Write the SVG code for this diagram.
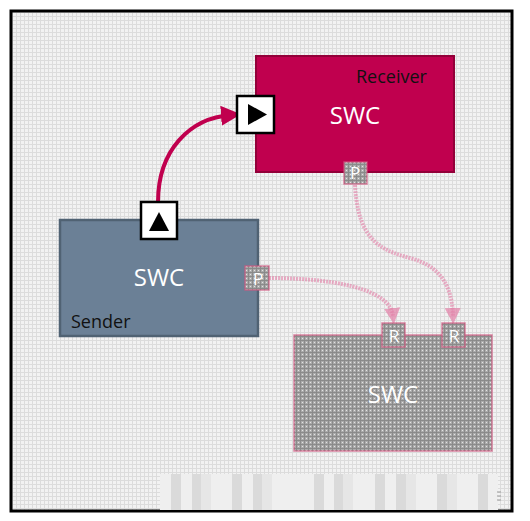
<svg xmlns="http://www.w3.org/2000/svg" width="530" height="521" viewBox="0 0 530 521">
<style>
.lbl{font-family:"Open Sans","DejaVu Sans",sans-serif}
.swc{font-size:24px;fill:#ffffff;text-anchor:middle}
.name{font-size:18px;fill:#111111}
.port{font-size:17px;fill:#ffffff;text-anchor:middle;font-family:"Open Sans","DejaVu Sans",sans-serif}
.pbox{fill:url(#hatch);stroke:#d0577f;stroke-width:1.5;stroke-opacity:0.7}
.dep{fill:none;stroke:#e27fa6;stroke-width:4;stroke-opacity:0.6;stroke-dasharray:2 1}
</style>
<defs>
<pattern id="grid" width="4" height="4" patternUnits="userSpaceOnUse">
<rect width="4" height="4" fill="#f2f2f2"/>
<path d="M0 0.5H4M0.5 0V4" stroke="#dcdcdc" stroke-width="1"/>
</pattern>
<pattern id="hatch" width="4" height="4" patternUnits="userSpaceOnUse">
<rect width="4" height="4" fill="#ababab"/>
<path d="M0 0.5H4M0.5 0V4" stroke="#8a8a8a" stroke-width="1"/>
<rect x="2" y="2" width="1" height="1" fill="#e2e2e2"/>
</pattern>
<marker id="arr" markerWidth="5" markerHeight="5" refX="2.5" refY="2.5" orient="auto" markerUnits="strokeWidth">
<path d="M0,0L5,2.5L0,5Z" fill="#c0004e"/>
</marker>
<marker id="arrp" markerWidth="4" markerHeight="4" refX="2" refY="2" orient="auto" markerUnits="strokeWidth">
<path d="M0,0L4,2L0,4Z" fill="#e27fa6" fill-opacity="0.7"/>
</marker>
</defs>
<rect x="0" y="0" width="530" height="521" fill="#ffffff"/>
<rect x="11" y="11" width="501" height="500" fill="url(#grid)" stroke="#000000" stroke-width="3"/>
<g id="scrollbar">
<rect x="160" y="474" width="338" height="36" fill="#efefef"/>
<g fill="#dadada">
<rect x="171" y="474" width="10" height="36"/><rect x="192" y="474" width="10" height="36"/>
<rect x="232" y="474" width="10" height="36"/><rect x="253" y="474" width="10" height="36"/>
<rect x="314" y="474" width="10" height="36"/><rect x="334" y="474" width="10" height="36"/>
<rect x="375" y="474" width="10" height="36"/><rect x="396" y="474" width="10" height="36"/>
<rect x="437" y="474" width="10" height="36"/><rect x="478" y="474" width="10" height="36"/>
</g>
<g fill="#e6e6e6">
<rect x="201" y="474" width="10" height="36"/><rect x="262" y="474" width="10" height="36"/>
<rect x="343" y="474" width="10" height="36"/><rect x="406" y="474" width="10" height="36"/>
<rect x="447" y="474" width="10" height="36"/>
</g>
<path d="M497 492H501M497 496H501M497 500H501" stroke="#999999" stroke-width="1"/>
</g>
<g id="receiver">
<rect x="256" y="56" width="198" height="116" fill="#c0004e" stroke="#930039" stroke-width="2"/>
<text class="lbl name" x="356" y="83">Receiver</text>
<text class="lbl swc" x="355" y="124">SWC</text>
</g>
<g id="sender">
<rect x="60" y="220" width="198" height="116" fill="#6b8096" stroke="#506273" stroke-width="2.5"/>
<text class="lbl swc" x="159" y="286">SWC</text>
<text class="lbl name" x="71" y="328">Sender</text>
</g>
<g id="target">
<rect x="294" y="335" width="198" height="116" fill="url(#hatch)" stroke="#d0577f" stroke-width="1.5" stroke-opacity="0.7"/>
<text class="lbl swc" x="393" y="403">SWC</text>
</g>
<g id="connectors">
<path d="M158,202 C158,150 190,118 231,115" fill="none" stroke="#c0004e" stroke-width="4" marker-end="url(#arr)"/>
<path class="dep" d="M269,278 C330,278 390,288 393,316" marker-end="url(#arrp)"/>
<path class="dep" d="M355,185 C358,240 380,250 410,258 C440,266 452,285 453,316" marker-end="url(#arrp)"/>
</g>
<g id="port-in">
<rect x="237" y="96" width="37" height="37" fill="#ffffff" stroke="#000000" stroke-width="2.5"/>
<path d="M248,104L267,114.5L248,125Z" fill="#000000"/>
</g>
<g id="port-out">
<rect x="141" y="202" width="36" height="37" fill="#ffffff" stroke="#000000" stroke-width="2.5"/>
<path d="M149,231L159,212L169,231Z" fill="#000000"/>
</g>
<g id="sender-p">
<rect class="pbox" x="245" y="266" width="24" height="24"/>
<text class="port" x="258" y="285">P</text>
</g>
<g id="receiver-p">
<rect class="pbox" x="344" y="162" width="23" height="22"/>
<text class="port" x="355" y="179">P</text>
</g>
<g id="target-r1">
<rect class="pbox" x="382" y="323" width="23" height="24"/>
<text class="port" x="394" y="342">R</text>
</g>
<g id="target-r2">
<rect class="pbox" x="442" y="323" width="23" height="24"/>
<text class="port" x="454" y="342">R</text>
</g>
</svg>
